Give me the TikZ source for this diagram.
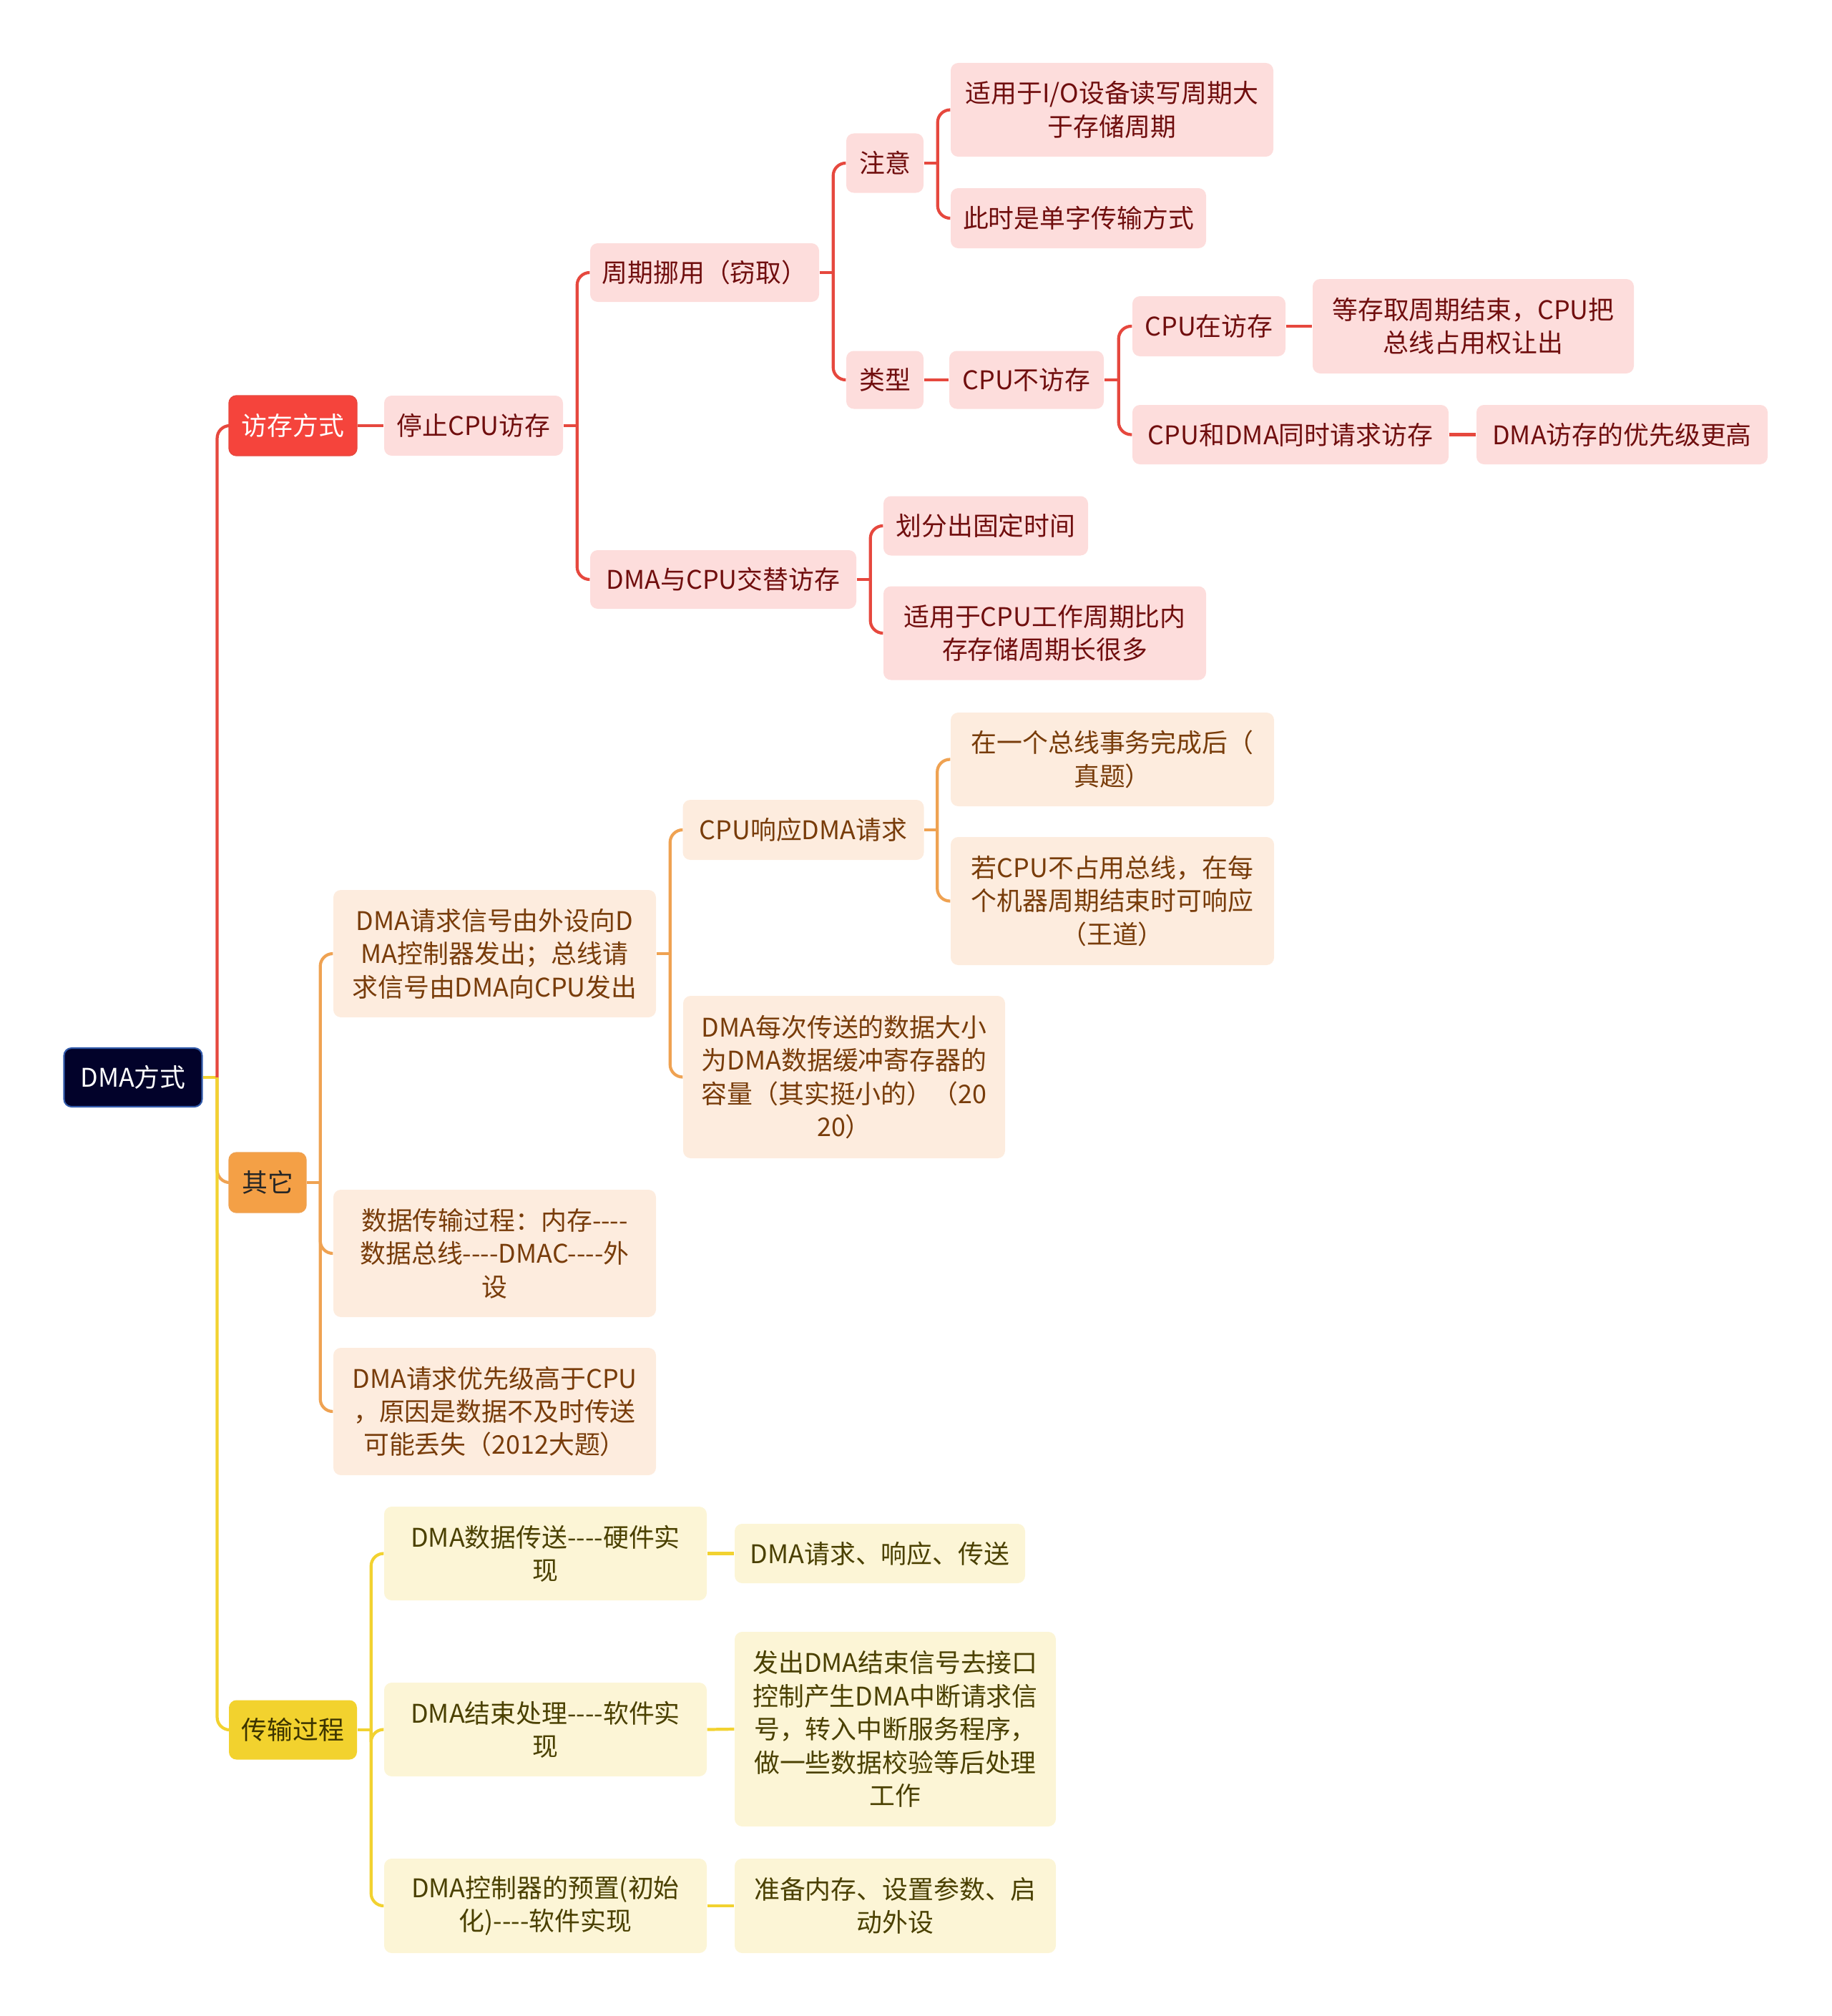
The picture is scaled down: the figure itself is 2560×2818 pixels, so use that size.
\documentclass[tikz,border=0pt]{standalone}
\usepackage{fontspec}
\setmainfont[Ligatures=TeXOff]{Noto Sans CJK SC}
\definecolor{redline}{RGB}{230,72,62}
\definecolor{redmain}{RGB}{245,68,60}
\definecolor{pinkfill}{RGB}{253,221,220}
\definecolor{pinktext}{RGB}{112,14,14}
\definecolor{orgline}{RGB}{239,162,82}
\definecolor{orgmain}{RGB}{244,160,70}
\definecolor{orgfill}{RGB}{253,236,222}
\definecolor{orgtext}{RGB}{120,60,10}
\definecolor{ylwline}{RGB}{242,210,48}
\definecolor{ylwmain}{RGB}{242,210,46}
\definecolor{ylwfill}{RGB}{252,245,214}
\definecolor{ylwtext}{RGB}{74,64,0}
\definecolor{rootfill}{RGB}{2,2,42}
\definecolor{rootedge}{RGB}{50,90,170}
\begin{document}
\begin{tikzpicture}[x=0.01cm,y=-0.01cm,
  every node/.style={font=\fontsize{10.2}{13.2}\selectfont, align=center, inner sep=0pt, rounded corners=3pt},
  sz/.style 2 args={minimum width=#1*0.01cm, minimum height=#2*0.01cm},
  rbox/.style={fill=pinkfill, text=pinktext},
  obox/.style={fill=orgfill, text=orgtext},
  ybox/.style={fill=ylwfill, text=ylwtext},
  rl/.style={draw=redline, line width=1.2pt, rounded corners=5pt},
  ol/.style={draw=orgline, line width=1.2pt, rounded corners=5pt},
  yl/.style={draw=ylwline, line width=1.2pt, rounded corners=5pt}]
\useasboundingbox (0,0) rectangle (2560,2818);

% root and main branches
\node[fill=rootfill, draw=rootedge, line width=0.6pt, text=white, sz={193}{82}] (root) at (186,1506) {DMA方式};
\node[fill=redmain, draw=redline, text=white, sz={179}{84}] (fc) at (409.5,595) {访存方式};
\node[fill=orgmain, draw=orgline, text=black!85, sz={108}{84}] (qt) at (374,1653) {其它};
\node[fill=ylwmain, text=ylwtext!80!black, sz={179}{83}] (cs) at (409.5,2418) {传输过程};

% red branch
\node[rbox, sz={250}{84}] (tz) at (662,595) {停止CPU访存};
\node[rbox, sz={320}{82}] (zq) at (985,381) {周期挪用（窃取）};
\node[rbox, sz={108}{83}] (zy) at (1237,228) {注意};
\node[rbox, sz={451}{131}] (zy1) at (1554.5,153.5) {适用于I/O设备读写周期大\\于存储周期};
\node[rbox, sz={357}{84}] (zy2) at (1507.5,305) {此时是单字传输方式};
\node[rbox, sz={108}{81}] (lx) at (1237,531) {类型};
\node[rbox, sz={216}{81}] (bfc) at (1435,531) {CPU不访存};
\node[rbox, sz={214}{84}] (zfc) at (1690,456) {CPU在访存};
\node[rbox, sz={449}{132}] (zfc1) at (2059.5,456) {等存取周期结束，CPU把\\总线占用权让出};
\node[rbox, sz={442}{83}] (tsq) at (1804,607.5) {CPU和DMA同时请求访存};
\node[rbox, sz={407}{83}] (tsq1) at (2267.5,607.5) {DMA访存的优先级更高};
\node[rbox, sz={372}{82}] (jt) at (1011,810) {DMA与CPU交替访存};
\node[rbox, sz={286}{83}] (jt1) at (1378,735) {划分出固定时间};
\node[rbox, sz={451}{131}] (jt2) at (1460.5,885) {适用于CPU工作周期比内\\存存储周期长很多};

% orange branch
\node[obox, sz={451}{178}] (qq) at (691.5,1333) {DMA请求信号由外设向D\\MA控制器发出；总线请\\求信号由DMA向CPU发出};
\node[obox, sz={337}{84}] (xy) at (1123,1160) {CPU响应DMA请求};
\node[obox, sz={452}{131}] (xy1) at (1555,1061.5) {在一个总线事务完成后（\\真题）};
\node[obox, sz={452}{179}] (xy2) at (1555,1259.5) {若CPU不占用总线，在每\\个机器周期结束时可响应\\（王道）};
\node[obox, sz={450}{227}] (mc) at (1180,1505.5) {DMA每次传送的数据大小\\为DMA数据缓冲寄存器的\\容量（其实挺小的）（20\\20）};
\node[obox, sz={451}{178}] (sj) at (691.5,1752) {数据传输过程：内存----\\数据总线----DMAC----外\\设};
\node[obox, sz={451}{178}] (yx) at (691.5,1973) {DMA请求优先级高于CPU\\，原因是数据不及时传送\\可能丢失（2012大题）};

% yellow branch
\node[ybox, sz={451}{131}] (c1) at (762.5,2171.5) {DMA数据传送----硬件实\\现};
\node[ybox, sz={406}{83}] (c1a) at (1230,2171.5) {DMA请求、响应、传送};
\node[ybox, sz={451}{131}] (c2) at (762.5,2417.5) {DMA结束处理----软件实\\现};
\node[ybox, sz={449}{272}] (c2a) at (1251.5,2417) {发出DMA结束信号去接口\\控制产生DMA中断请求信\\号，转入中断服务程序，\\做一些数据校验等后处理\\工作};
\node[ybox, sz={451}{132}] (c3) at (762.5,2664) {DMA控制器的预置(初始\\化)----软件实现};
\node[ybox, sz={449}{132}] (c3a) at (1251.5,2664) {准备内存、设置参数、启\\动外设};

% root connectors
\draw[yl] (root.east) -- ++(20,0) coordinate (rj);
\draw[rl] (rj) |- (fc.west);
\draw[ol] (rj) |- (qt.west);
\draw[yl] (rj) |- (cs.west);

% red connectors
\draw[rl] (fc.east) -- (tz.west);
\draw[rl] (tz.east) -- ++(19,0) coordinate (tzj);
\draw[rl] (tzj) |- (zq.west);
\draw[rl] (tzj) |- (jt.west);
\draw[rl] (zq.east) -- ++(19,0) coordinate (zqj);
\draw[rl] (zqj) |- (zy.west);
\draw[rl] (zqj) |- (lx.west);
\draw[rl] (zy.east) -- ++(19,0) coordinate (zyj);
\draw[rl] (zyj) |- (zy1.west);
\draw[rl] (zyj) |- (zy2.west);
\draw[rl] (lx.east) -- (bfc.west);
\draw[rl] (bfc.east) -- ++(20,0) coordinate (bfj);
\draw[rl] (bfj) |- (zfc.west);
\draw[rl] (bfj) |- (tsq.west);
\draw[rl] (zfc.east) -- (zfc1.west);
\draw[rl] (tsq.east) -- (tsq1.west);
\draw[rl] (jt.east) -- ++(19,0) coordinate (jtj);
\draw[rl] (jtj) |- (jt1.west);
\draw[rl] (jtj) |- (jt2.west);

% orange connectors
\draw[ol] (qt.east) -- ++(19,0) coordinate (qtj);
\draw[ol] (qtj) |- (qq.west);
\draw[ol] (qtj) |- (sj.west);
\draw[ol] (qtj) |- (yx.west);
\draw[ol] (qq.east) -- ++(19,0) coordinate (qqj);
\draw[ol] (qqj) |- (xy.west);
\draw[ol] (qqj) |- (mc.west);
\draw[ol] (xy.east) -- ++(18,0) coordinate (xyj);
\draw[ol] (xyj) |- (xy1.west);
\draw[ol] (xyj) |- (xy2.west);

% yellow connectors
\draw[yl] (cs.east) -- ++(19,0) coordinate (csj);
\draw[yl] (csj) |- (c1.west);
\draw[yl] (csj) |- (c2.west);
\draw[yl] (csj) |- (c3.west);
\draw[yl] (c1.east) -- (c1a.west);
\draw[yl] (c2.east) -- (c2a.west);
\draw[yl] (c3.east) -- (c3a.west);
\end{tikzpicture}
\end{document}
